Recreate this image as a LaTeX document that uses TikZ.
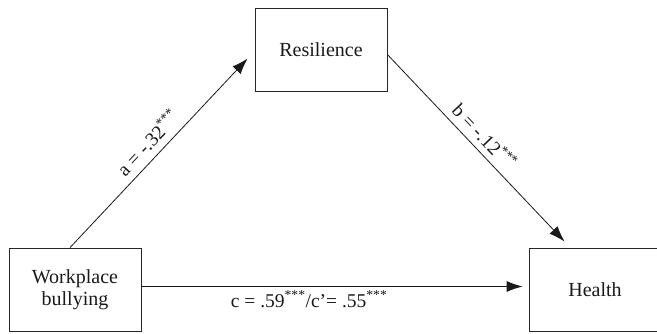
\documentclass[tikz,border=0pt]{standalone}
\usepackage{fontspec}
\setmainfont{Liberation Serif}
\usetikzlibrary{arrows.meta,calc}
\tikzset{
  boxnode/.style={draw=black!85, line width=0.8pt, minimum width=132pt, minimum height=83pt, inner sep=0pt, align=center, font=\fontsize{20}{22}\selectfont, text=black!90},
  conn/.style={line width=0.8pt, draw=black!90, -{Latex[length=16pt,width=11pt]}},
  lab/.style={font=\fontsize{19.5}{21}\selectfont, text=black!90, inner sep=1pt}
}
\begin{document}
\begin{tikzpicture}[x=1pt,y=-1pt]
\useasboundingbox (0,0) rectangle (657,333);
\node[boxnode] (res) at (321,49.5) {Resilience};
\node[boxnode] (bul) at (75,289.5) {Workplace\\bullying};
\node[boxnode] (hea) at (595,289.5) {Health};
\coordinate (atip) at ($(res.west)+(-7,9)$);
\coordinate (btip) at ($(hea.north west)+(36,-6)$);
\coordinate (astart) at ($(bul.north)+(-5,0)$);
\coordinate (bstart) at ($(res.east)+(0,5)$);
\draw[conn] (astart) -- node[lab, sloped, above=6pt, pos=0.5] {a = -.32\textsuperscript{***}} (atip);
\draw[conn] (bstart) -- node[lab, sloped, above=5pt, pos=0.49] {b = -.12\textsuperscript{***}} (btip);
\draw[conn] ($(bul.east)+(0,-3)$) -- node[lab, below=3pt, pos=0.44] {c = .59\textsuperscript{***}/c'= .55\textsuperscript{***}} ($(hea.west)+(-6,-3)$);
\end{tikzpicture}
\end{document}
